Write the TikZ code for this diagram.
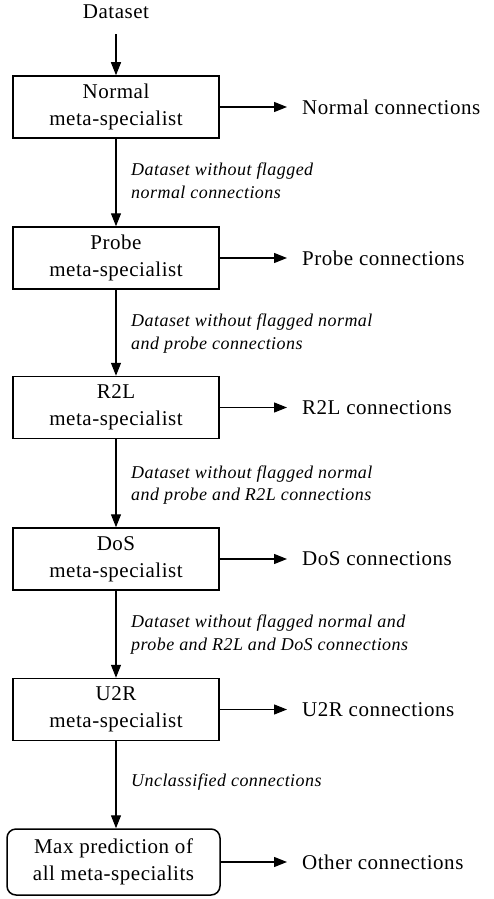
\documentclass[tikz,border=0pt]{standalone}
\usepackage{fontspec}
\setmainfont{Liberation Serif}
\newfontfamily\spacedfont{Liberation Serif}[LetterSpace=2.5]
\usetikzlibrary{arrows.meta}
\newcommand{\boxfont}{\spacedfont\fontsize{21}{27}\selectfont}
\newcommand{\lblfont}{\spacedfont\itshape\fontsize{18}{22.5}\selectfont}
\begin{document}
\begin{tikzpicture}[x=1pt,y=-1pt,
  box/.style={draw,line width=1.5pt,minimum width=206pt,minimum height=62pt,inner sep=0pt,align=center,font=\boxfont},
  arr/.style={line width=1.2pt,-{Triangle[length=13pt,width=10pt]}},
  outtxt/.style={anchor=west,inner sep=0pt,font=\boxfont},
  lbl/.style={anchor=west,inner sep=0pt,align=left,font=\lblfont}]
\useasboundingbox (0,0) rectangle (493,899);
\node[inner sep=0pt,font=\boxfont] (ds) at (116,12) {Dataset};
\node[box] (b1) at (116,107) {Normal\\meta-specialist};
\node[box] (b2) at (116,258) {Probe\\meta-specialist};
\node[box] (b3) at (116,407.5) {R2L\\meta-specialist};
\node[box] (b4) at (116,559) {DoS\\meta-specialist};
\node[box] (b5) at (116,709.5) {U2R\\meta-specialist};
\node[box,rounded corners=9pt,minimum width=213pt,minimum height=66pt] (b6) at (113.5,862) {Max prediction of\\all meta-specialits};

\node[outtxt] (o1) at (302,107) {Normal connections};
\node[outtxt] (o2) at (302,258) {Probe connections};
\node[outtxt] (o3) at (302,407.5) {R2L connections};
\node[outtxt] (o4) at (302,559) {DoS connections};
\node[outtxt] (o5) at (302,709.5) {U2R connections};
\node[outtxt] (o6) at (302,862) {Other connections};

\node[lbl] (l1) at (131,181) {Dataset without flagged\\normal connections};
\node[lbl] (l2) at (131,333.5) {Dataset without flagged normal\\and probe connections};
\node[lbl] (l3) at (131,485) {Dataset without flagged normal\\and probe and R2L connections};
\node[lbl] (l4) at (131,634.5) {Dataset without flagged normal and\\probe and R2L and DoS connections};
\node[lbl] (l5) at (131,782) {Unclassified connections};

\draw[arr] ([yshift=-15pt]ds.south) -- (ds.south |- b1.north);
\draw[arr] (b1.south) -- (b1.south |- b2.north);
\draw[arr] (b2.south) -- (b2.south |- b3.north);
\draw[arr] (b3.south) -- (b3.south |- b4.north);
\draw[arr] (b4.south) -- (b4.south |- b5.north);
\draw[arr] (b5.south) -- (b5.south |- b6.north);
\foreach \i in {1,...,6}{
  \draw[arr] (b\i.east) -- ([xshift=-15pt]o\i.west);
}
\end{tikzpicture}
\end{document}
